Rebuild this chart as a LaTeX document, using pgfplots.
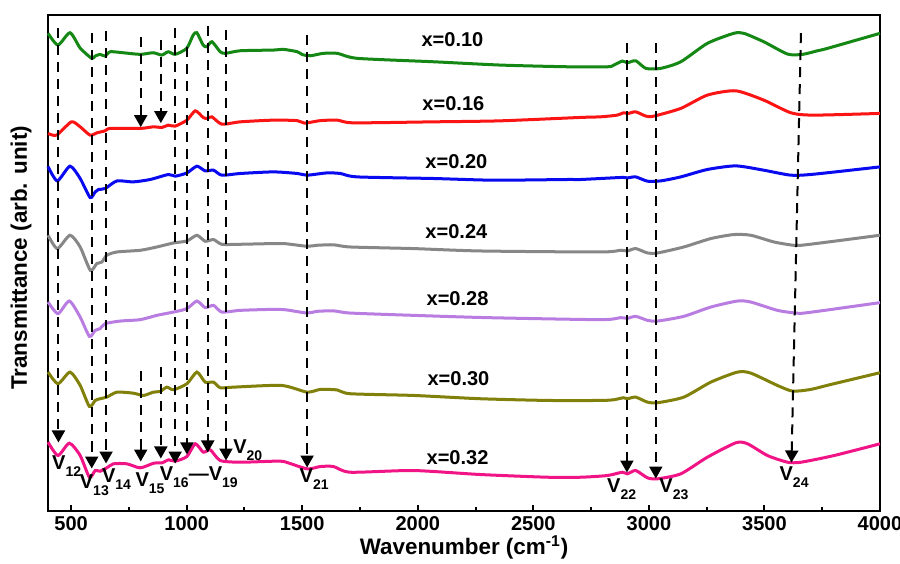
\documentclass[border=0pt]{standalone}
\usepackage{fontspec}
\setmainfont{Liberation Sans}
\usepackage{pgfplots}
\pgfplotsset{compat=1.18}
\usetikzlibrary{arrows.meta}
\definecolor{cgreen}{RGB}{20,135,20}
\definecolor{cred}{RGB}{250,20,20}
\definecolor{cblue}{RGB}{10,10,240}
\definecolor{cgray}{RGB}{135,135,135}
\definecolor{cpurple}{RGB}{185,125,225}
\definecolor{colive}{RGB}{128,128,10}
\definecolor{cpink}{RGB}{240,20,135}
\newcommand\Vs[1]{V\raisebox{-3.5pt}{\fontsize{7}{7}\selectfont #1}}
\begin{document}
\begin{tikzpicture}[font=\bfseries]
\begin{axis}[
  scale only axis, width=415.5pt, height=247.5pt,
  xmin=400, xmax=4000, ymin=0, ymax=495,
  axis line style={line width=1pt},
  xtick={500,1000,...,4000},
  minor xtick={750,1250,...,3750},
  ytick=\empty,
  tick align=inside,
  xtick pos=left,
  major tick length=3pt, minor tick length=2pt,
  tick style={line width=1pt, black},
  /pgf/number format/assume math mode=true,
  /pgf/number format/1000 sep={},
  ticklabel style={font=\bfseries\fontsize{10}{12}\selectfont},
  xticklabel style={yshift=0.5pt},
  xlabel={Wavenumber (cm\textsuperscript{-1})},
  xlabel style={font=\bfseries\fontsize{11.2}{13}\selectfont, at={(axis description cs:0.5,0)}, anchor=base, yshift=-22pt},
  ylabel={Transmittance (arb. unit)},
  ylabel style={font=\bfseries\fontsize{11.2}{13}\selectfont, at={(axis description cs:0,0.51)}, anchor=center, rotate=0, yshift=13.5pt},
  every axis plot/.append style={line width=1.5pt, smooth, tension=0.4, no marks},
  clip=false,
]
\addplot[cgreen] coordinates {(400,476.7)(443,465)(495,477.3)(539,462)(589,451.7)(604,454)(625,455.7)(647,454)(669,458.3)(725,457.3)(799,455.7)(855,457.3)(892,455)(920,458.3)(950,455.7)(1000,461.7)(1028,475)(1044,477.3)(1071,465)(1087,463.3)(1109,468.3)(1145,458.3)(1167,456.7)(1232,459.3)(1375,460)(1418,460.7)(1479,458.3)(1500,455.5)(1535,454.3)(1591,456.7)(1652,456.7)(1739,451.7)(2068,448.3)(2358,445)(2648,443.3)(2822,443.3)(2848,445)(2885,449)(2907,447.3)(2943,449.3)(2987,441.7)(3051,441.7)(3138,448.3)(3253,466.7)(3367,476.7)(3411,476.7)(3497,468.3)(3600,456)(3665,455.7)(3730,459.3)(3773,461.7)(4000,476.7)};
\addplot[cred] coordinates {(400,376.7)(437,375)(501,388.3)(539,383.3)(582,375)(611,377.3)(647,379.3)(669,381.7)(799,381.7)(855,383.3)(893,382.7)(920,385)(950,384)(1001,390)(1037,399.3)(1071,392.7)(1087,391.7)(1109,393.3)(1152,386)(1232,388.3)(1375,390)(1479,389.5)(1510,387)(1578,389.5)(1652,390)(1721,387.3)(2068,388.3)(2358,389.3)(2705,392.7)(2791,393.3)(2863,395)(2890,397.3)(2911,396.7)(2943,398.3)(2987,394)(3021,394)(3138,401.7)(3253,415)(3376,419.3)(3497,410)(3615,397.3)(3714,395)(4000,396.7)};
\addplot[cblue] coordinates {(400,343.7)(440,329.3)(495,344)(539,331.7)(582,312.7)(604,318.3)(618,320.7)(647,321.7)(698,329.3)(768,328.3)(842,330.7)(921,335.7)(950,334)(1001,337.3)(1044,344)(1080,339.3)(1116,340)(1152,335)(1232,336.7)(1375,338.3)(1479,336.7)(1521,335)(1607,337.3)(1665,336.7)(1738,333.3)(2068,331.7)(2328,330)(2648,330.7)(2705,330.7)(2878,332.7)(2907,332.3)(2943,333.3)(2994,329)(3051,329.3)(3138,333.3)(3253,340.7)(3376,344.3)(3497,340)(3615,335)(3714,336)(4000,343.3)};
\addplot[cgray] coordinates {(400,275)(440,261.7)(495,275)(539,263.3)(583,240)(611,246.7)(633,248.3)(654,255)(698,258.3)(799,260)(871,263.3)(943,267.3)(1001,269.3)(1044,275)(1080,269)(1116,270.7)(1152,266)(1232,266)(1375,266.7)(1430,266.5)(1521,264)(1564,265)(1635,265.5)(1708,263.3)(1981,261.7)(2271,259.3)(2791,258.3)(2878,260)(2907,259.3)(2943,261.7)(2994,257.3)(3037,257.3)(3151,263.3)(3268,271.7)(3367,275.7)(3441,275)(3541,268.3)(3627,265)(3687,265.7)(4000,275)};
\addplot[cpurple] coordinates {(400,208.3)(443,196.7)(492,209.3)(539,193.3)(579,174)(604,180)(625,181.7)(647,186.7)(712,189.3)(799,190.7)(871,195)(943,198.3)(1001,201.7)(1044,209.3)(1080,202.7)(1116,205)(1152,198.3)(1232,200)(1375,201)(1430,200.5)(1521,197.3)(1564,199)(1635,199.5)(1708,197.3)(1981,195)(2302,192.7)(2791,190.7)(2878,192.7)(2907,192)(2943,194)(2994,190)(3037,189.3)(3151,194)(3268,203.3)(3383,209.3)(3441,208.3)(3556,200)(3636,197.3)(3687,197.7)(4000,207.7)};
\addplot[colive] coordinates {(400,138.3)(443,126.7)(495,138.3)(539,125)(579,104)(604,110)(625,111.7)(654,113.3)(698,118.3)(768,117.3)(813,115)(856,118.3)(885,119)(914,123.3)(943,120.7)(1001,126.7)(1044,138.3)(1080,128.3)(1116,128.3)(1145,122.7)(1203,123.3)(1410,125)(1521,118.3)(1578,121)(1651,120.5)(1708,116.7)(1981,115)(2271,111.7)(2562,110)(2791,110)(2848,110.7)(2890,112.7)(2907,111.7)(2943,113.3)(2994,108.3)(3037,107.7)(3151,113.3)(3268,128.3)(3383,138.3)(3441,137.3)(3556,125)(3622,119.3)(3700,121)(3788,126)(4000,137.7)};
\addplot[cpink] coordinates {(400,68.3)(443,55)(492,67.3)(539,55)(579,33.3)(604,40)(625,39.3)(654,42.7)(683,46.7)(741,46.7)(799,42.7)(857,47.3)(893,47.7)(922,50.7)(950,49.3)(1001,54)(1037,66.7)(1072,58.3)(1102,60.7)(1145,50)(1232,48.3)(1375,49.3)(1420,49)(1521,41.7)(1578,44)(1635,44)(1708,38.3)(1981,40)(2271,36)(2562,33.3)(2705,33.3)(2820,35)(2885,38.3)(2907,36.7)(2943,40)(2994,32.7)(3037,31.7)(3138,36.7)(3253,53.3)(3376,67.7)(3427,66.7)(3513,55)(3600,48.3)(3658,48.3)(3802,55)(4000,66.7)};
% dashed guide lines with arrows
\tikzset{dl/.style={black, line width=1pt, dash pattern=on 5pt off 3.5pt, -{Triangle[width=6.5pt,length=6pt]}}}
\draw[dl] (445,482) -- (445,68);
\draw[dl] (589,477) -- (589,42);
\draw[dl] (651,479) -- (651,47);
\draw[dl] (801,473) -- (801,383);
\draw[dl] (801,139) -- (801,49);
\draw[dl] (888,470) -- (888,387);
\draw[dl] (888,143) -- (888,52);
\draw[dl] (950,482) -- (950,47);
\draw[dl] (1001,463) -- (1001,56);
\draw[dl] (1091,484) -- (1091,58);
\draw[dl] (1170,480) -- (1170,50);
\draw[dl] (1521,475) -- (1521,43);
\draw[dl] (2905,467) -- (2905,38);
\draw[dl] (3030,467) -- (3030,32);
\draw[dl] (3658,477) -- (3617,48);
% sample labels
\tikzset{lab/.style={font=\bfseries\fontsize{10}{12}\selectfont}}
\node[lab] at (2150,470) {x=0.10};
\node[lab] at (2154,407) {x=0.16};
\node[lab] at (2167,349) {x=0.20};
\node[lab] at (2167,279) {x=0.24};
\node[lab] at (2172,212) {x=0.28};
\node[lab] at (2176,132) {x=0.30};
\node[lab] at (2172,53) {x=0.32};
% band labels
\tikzset{vl/.style={font=\bfseries\fontsize{10}{12}\selectfont, anchor=base west, inner sep=0pt}}
\node[vl] at (416,40.7) {\Vs{12}};
\node[vl] at (536,22.5) {\Vs{13}};
\node[vl] at (632,28.3) {\Vs{14}};
\node[vl] at (777,24) {\Vs{15}};
\node[vl] at (882,30) {\Vs{16}\textemdash\Vs{19}};
\node[vl] at (1200,57.3) {\Vs{20}};
\node[vl] at (1487,28) {\Vs{21}};
\node[vl] at (2818,18.3) {\Vs{22}};
\node[vl] at (3044,18.3) {\Vs{23}};
\node[vl] at (3564,30) {\Vs{24}};
\end{axis}
\pgfresetboundingbox
\path (-24pt,-26.5pt) rectangle (425.5pt,255pt);
\end{tikzpicture}
\end{document}
